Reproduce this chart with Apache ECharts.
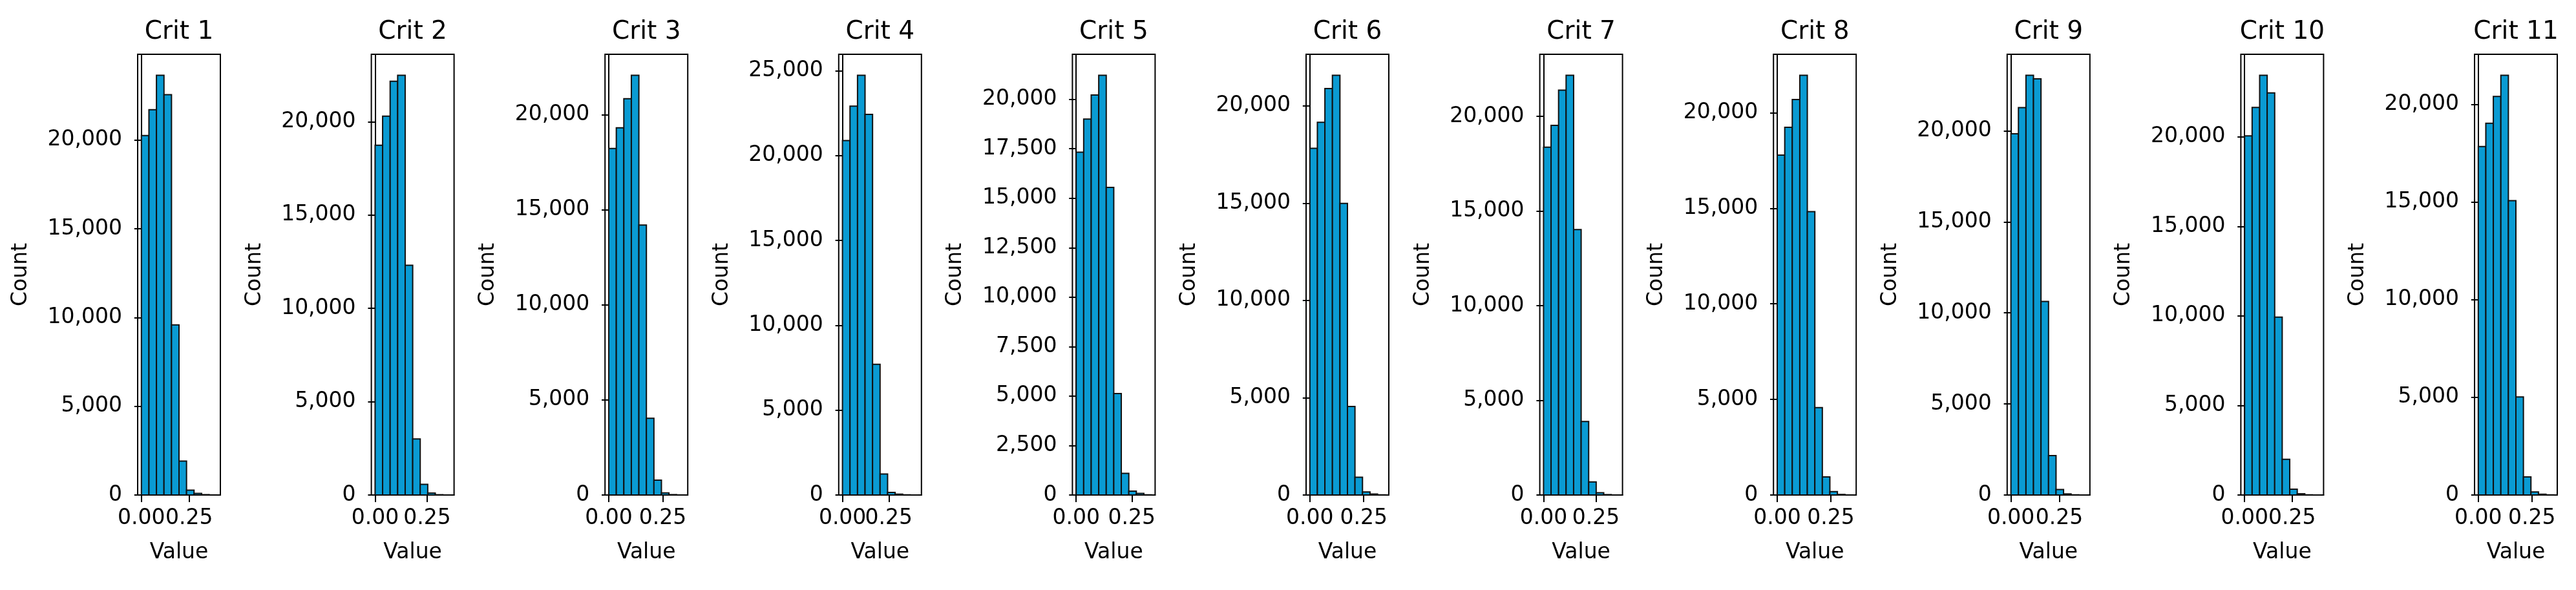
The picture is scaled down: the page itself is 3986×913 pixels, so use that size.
<!DOCTYPE html>
<html>
<head>
<meta charset="utf-8">
<style>
html,body{margin:0;padding:0;background:#fff;}
#chart{width:3986px;height:913px;}
</style>
<script src="https://cdn.jsdelivr.net/npm/echarts@6/dist/echarts.min.js"></script>
</head>
<body>
<div id="chart"></div>
<script>
// ---- data ----
const categories = ['Crit 1','Crit 2','Crit 3','Crit 4','Crit 5','Crit 6','Crit 7','Crit 8','Crit 9','Crit 10','Crit 11'];
// upper edge of the value range (10 equal bins from 0)
const binRanges = [0.393, 0.361, 0.348, 0.406, 0.338, 0.349, 0.359, 0.351, 0.388, 0.396, 0.351];
const counts1  = [20250, 21710, 23650, 22560, 9585, 1910, 270, 90, 20, 5];
const counts2  = [18745, 20300, 22170, 22490, 12310, 3000, 567, 100, 15, 3];
const counts3  = [18224, 19318, 20845, 22078, 14200, 4040, 786, 108, 20, 5];
const counts4  = [20896, 22922, 24740, 22437, 7701, 1242, 150, 50, 10, 2];
const counts5  = [17328, 19003, 20219, 21213, 15548, 5125, 1091, 200, 80, 10];
const counts6  = [17812, 19148, 20890, 21568, 14985, 4550, 910, 155, 50, 8];
const counts7  = [18372, 19518, 21378, 22168, 14018, 3884, 693, 120, 20, 3];
const counts8  = [17780, 19234, 20688, 21958, 14826, 4572, 944, 180, 30, 5];
const counts9  = [19839, 21274, 23048, 22855, 10629, 2161, 300, 60, 10, 2];
const counts10 = [20049, 21637, 23437, 22455, 9935, 1997, 327, 70, 10, 2];
const counts11 = [17836, 19034, 20406, 21488, 15072, 5024, 928, 155, 40, 8];
const allCounts = [counts1,counts2,counts3,counts4,counts5,counts6,counts7,counts8,counts9,counts10,counts11];
const yTicksStd = [0, 5000, 10000, 15000, 20000];
const yTicksWide = [0, 5000, 10000, 15000, 20000, 25000];
const yTicksFine = [0, 2500, 5000, 7500, 10000, 12500, 15000, 17500, 20000];
const yTickSets = [yTicksStd, yTicksStd, yTicksStd, yTicksWide, yTicksFine, yTicksStd, yTicksStd, yTicksStd, yTicksStd, yTicksStd, yTicksStd];
const xTicks = [0, 0.25];
const xLabel = 'Value';
const yLabel = 'Count';

// ---- layout ----
const FONT = 'DejaVu Sans';
const firstLeft = 213, step = 361.6, gW = 128, gTop = 84, gH = 682;
const barColor = '#0a9bd3';

const chart = echarts.init(document.getElementById('chart'), null, {renderer: 'canvas'});
const grids = [], xAxes = [], yAxes = [], series = [], graphics = [];
const fmt = v => Number(v).toLocaleString('en-US');
const labelStyle = {fontFamily: FONT, fontSize: 33, color: '#000'};

categories.forEach((name, i) => {
  const left = firstLeft + step * i;
  const R = binRanges[i];
  const counts = allCounts[i];
  const maxC = Math.max(...counts);
  grids.push({left: left, top: gTop, width: gW, height: gH, show: true,
    borderColor: '#000', borderWidth: 2, backgroundColor: 'transparent', containLabel: false});
  // main x axis: line, both ticks, first tick label, axis name
  xAxes.push({type: 'value', gridIndex: i, position: 'bottom', min: -0.05 * R, max: 1.05 * R,
    name: xLabel, nameLocation: 'middle', nameGap: 73, nameTextStyle: labelStyle,
    axisLine: {show: true, onZero: false, lineStyle: {color: '#000', width: 2}},
    axisTick: {show: true, inside: false, length: 11, lineStyle: {color: '#000', width: 2}, customValues: xTicks},
    axisLabel: Object.assign({show: true, margin: 20, customValues: [xTicks[0]],
      formatter: v => Number(v).toFixed(2), showMinLabel: true, showMaxLabel: true}, labelStyle),
    splitLine: {show: false}});
  // overlay x axis carrying the remaining tick label (labels overlap as in the reference)
  xAxes.push({type: 'value', gridIndex: i, position: 'bottom', offset: 0, min: -0.05 * R, max: 1.05 * R,
    axisLine: {show: false, onZero: false}, axisTick: {show: false},
    axisLabel: Object.assign({show: true, margin: 20, customValues: xTicks.slice(1),
      formatter: v => Number(v).toFixed(2), showMinLabel: true, showMaxLabel: true}, labelStyle),
    splitLine: {show: false}});
  yAxes.push({type: 'value', gridIndex: i, min: 0, max: maxC * 1.05,
    name: yLabel, nameLocation: 'middle', nameGap: 164, nameRotate: 90, nameTextStyle: labelStyle,
    axisLine: {show: true, lineStyle: {color: '#000', width: 2}},
    axisTick: {show: true, inside: false, length: 11, lineStyle: {color: '#000', width: 2}, customValues: yTickSets[i]},
    axisLabel: Object.assign({show: true, margin: 24, customValues: yTickSets[i], formatter: fmt,
      showMinLabel: true, showMaxLabel: true}, labelStyle),
    splitLine: {show: false}});
  const data = counts.map((c, k) => [k * R / 10, (k + 1) * R / 10, c]);
  series.push({type: 'custom', xAxisIndex: 2 * i, yAxisIndex: i, clip: true,
    encode: {x: [0, 1], y: 2},
    data: data,
    renderItem: function (params, api) {
      const p0 = api.coord([api.value(0), api.value(2)]);
      const p1 = api.coord([api.value(1), 0]);
      return {type: 'rect',
        shape: {x: p0[0], y: p0[1], width: p1[0] - p0[0], height: p1[1] - p0[1]},
        style: {fill: barColor, stroke: '#111', lineWidth: 2}};
    }});
  graphics.push({type: 'text', x: left + gW / 2, y: 50,
    style: {text: name, fontFamily: FONT, fontSize: 39, fill: '#000',
      textAlign: 'center', textVerticalAlign: 'middle'}});
});

chart.setOption({
  animation: false,
  backgroundColor: '#fff',
  grid: grids, xAxis: xAxes, yAxis: yAxes, series: series,
  graphic: graphics
});
</script>
</body>
</html>
